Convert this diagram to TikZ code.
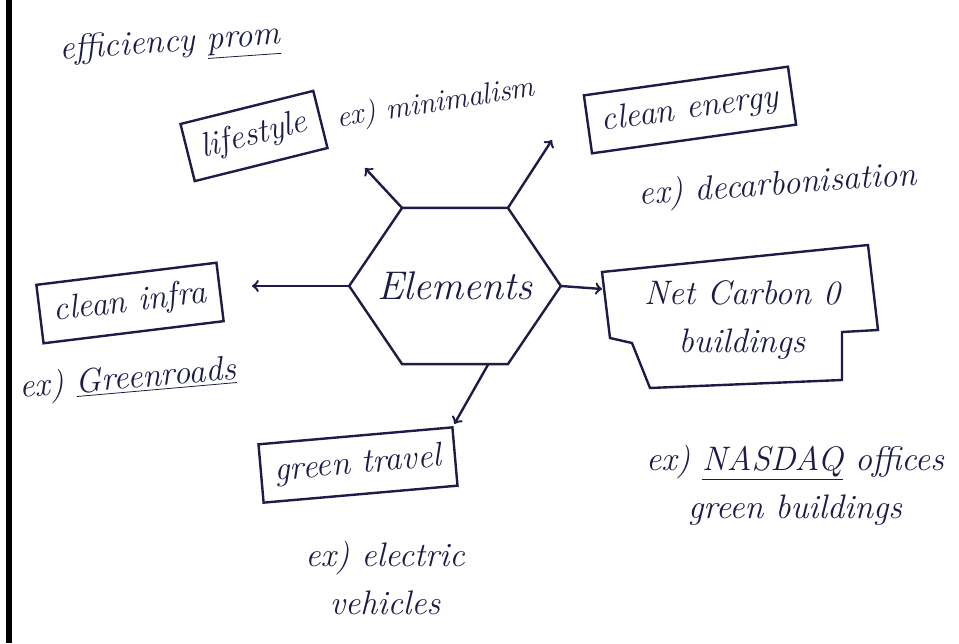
\documentclass[tikz,border=0pt]{standalone}
\usetikzlibrary{shapes.geometric}
\definecolor{ink}{RGB}{28,28,72}
\begin{document}
\begin{tikzpicture}[x=0.5pt,y=-0.5pt,inner sep=0pt,outer sep=0pt,very thick,draw=ink,text=ink,
font=\fontsize{17}{24}\selectfont\itshape,
notebox/.style={draw,rectangle,inner sep=7pt,very thick},
hexbox/.style={draw,regular polygon,regular polygon sides=6,minimum size=98pt,very thick},
exlabel/.style={align=center}]
\useasboundingbox (0,0) rectangle (959,643);
\fill[white] (0,0) rectangle (959,643);
\draw[line width=3pt,black] (9,0) -- (9,643);
\node (title) at (170,45) [rotate=4] {efficiency \underline{prom}};
\node[hexbox,xscale=1.08,yscale=0.92] (hex) at (455,286) {};
\node (elem) at (hex.center) {\fontsize{20}{24}\selectfont Elements};
\node[notebox,rotate=14] (life) at (254,136) {lifestyle};
\node (lifeex) at (436,104) [rotate=9,font=\fontsize{15}{20}\selectfont\itshape] {ex) minimalism};
\node[notebox,rotate=8] (energy) at (690,110) {clean energy};
\node (energyex) at (778,186) [rotate=4] {ex) decarbonisation};
\node[notebox,rotate=7] (infra) at (130,303) {clean infra};
\node (infraex) at (128,380) [rotate=5] {ex) \underline{Greenroads}};
\node[exlabel] (net) at (742,320) {Net Carbon 0\\buildings};
\draw (602,272) -- (610,338) -- (632,343) -- (650,388) -- (842,380)
  -- (842,332) -- (878,330) -- (868,245) -- cycle;
\node[exlabel] (netex) at (795,485) {ex) \underline{NASDAQ} offices\\green buildings};
\node[notebox,rotate=5] (travel) at (358,465) {green travel};
\node[exlabel] (travelex) at (385,578) {ex) electric\\vehicles};
\coordinate (lifetip) at (365,168);
\coordinate (energytip) at (552,140);
\coordinate (nettip) at (602,289);
\draw[->] (hex.120) -- (lifetip);
\draw[->] (hex.60) -- (energytip);
\draw[->] (hex.0) -- (nettip);
\draw[->,shorten >=16pt] (hex.180) -- (hex.180 -| infra.east);
\draw[->,shorten >=2pt] (hex.-70) -- (travel.north east);
\end{tikzpicture}
\end{document}
